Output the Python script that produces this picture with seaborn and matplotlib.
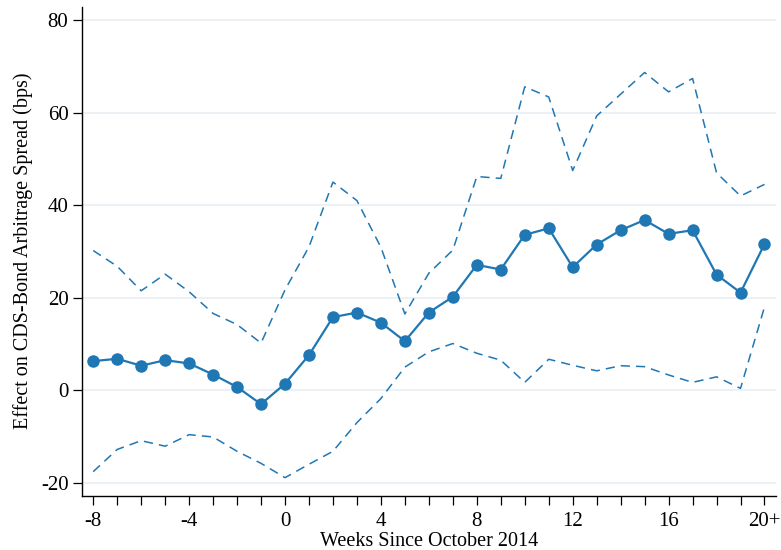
import numpy as np
import pandas as pd
import matplotlib
matplotlib.use("Agg")
import matplotlib.pyplot as plt
import seaborn as sns

# Semanas relativas a outubro de 2014 (20 = "20+")
weeks = list(range(-8, 21))

# Efeito estimado (bps)
coef = [6.3, 6.8, 5.3, 6.5, 5.8, 3.4, 0.7, -3.0, 1.4, 7.6,
        15.8, 16.8, 14.6, 10.6, 16.8, 20.2, 27.1, 26.1, 33.6, 35.0,
        26.6, 31.5, 34.6, 36.8, 33.8, 34.6, 25.0, 21.1, 31.6]

# Intervalo de confiança superior
upper = [30.2, 26.8, 21.5, 25.1, 21.3, 16.6, 14.2, 10.2, 21.7, 31.0,
         45.0, 41.0, 30.9, 16.5, 25.3, 30.3, 46.2, 45.8, 65.6, 63.4,
         47.5, 59.3, 64.0, 68.7, 64.5, 67.4, 47.0, 42.0, 44.5]

# Intervalo de confiança inferior
lower = [-17.6, -12.8, -10.9, -12.1, -9.6, -10.1, -13.2, -15.8, -18.9, -16.0,
         -13.2, -7.0, -1.8, 5.0, 8.3, 10.1, 8.0, 6.5, 1.7, 6.7,
         5.4, 4.2, 5.3, 5.1, 3.3, 1.7, 2.9, 0.4, 18.0]

xtick_pos = [-8, -4, 0, 4, 8, 12, 16, 20]
xtick_labels = ["-8", "-4", "0", "4", "8", "12", "16", "20+"]
ytick_pos = [-20, 0, 20, 40, 60, 80]

df = pd.DataFrame({"semana": weeks, "coef": coef, "sup": upper, "inf": lower})

sns.set_style("white")
plt.rcParams["font.family"] = ["Liberation Serif", "DejaVu Serif"]
plt.rcParams["axes.unicode_minus"] = False
plt.rcParams["text.color"] = "black"
plt.rcParams["axes.labelcolor"] = "black"
plt.rcParams["xtick.color"] = "black"
plt.rcParams["ytick.color"] = "black"

blue = "#1f77b4"

fig = plt.figure(figsize=(7.81, 5.5), dpi=100)
ax = fig.add_axes([0.1046, 0.0987, 0.889, 0.889])

ax.yaxis.grid(True, color="#e8eff2", linewidth=1.2)
ax.set_axisbelow(True)

# Intervalos de confiança (tracejado)
sns.lineplot(data=df, x="semana", y="sup", ax=ax, color=blue,
             linewidth=1.1, dashes=False)
sns.lineplot(data=df, x="semana", y="inf", ax=ax, color=blue,
             linewidth=1.1, dashes=False)
for ln in ax.lines:
    ln.set_dashes([6, 4])

# Coeficientes estimados
sns.lineplot(data=df, x="semana", y="coef", ax=ax, color=blue,
             linewidth=1.6, marker="o", markersize=9, markeredgewidth=0)

ax.set_xlim(-8.48, 20.48)
ax.set_ylim(-22.8, 82.9)

ax.set_xticks(weeks, minor=True)
ax.set_xticks(xtick_pos)
ax.set_xticklabels(xtick_labels)
ax.set_yticks(ytick_pos)

ax.tick_params(axis="both", which="both", direction="out", length=6.5,
               width=0.9, color="black", labelsize=15, pad=3,
               bottom=True, left=True, labelcolor="black")
ax.tick_params(axis="x", which="major", pad=5)

sns.despine(ax=ax)
for s in ["left", "bottom"]:
    ax.spines[s].set_color("black")
    ax.spines[s].set_linewidth(1.0)

ax.set_xlabel("Weeks Since October 2014", fontsize=14.5, labelpad=1)
ax.set_ylabel("Effect on CDS-Bond Arbitrage Spread (bps)", fontsize=14.5, labelpad=6)

fig.savefig("out.png", dpi=100)
